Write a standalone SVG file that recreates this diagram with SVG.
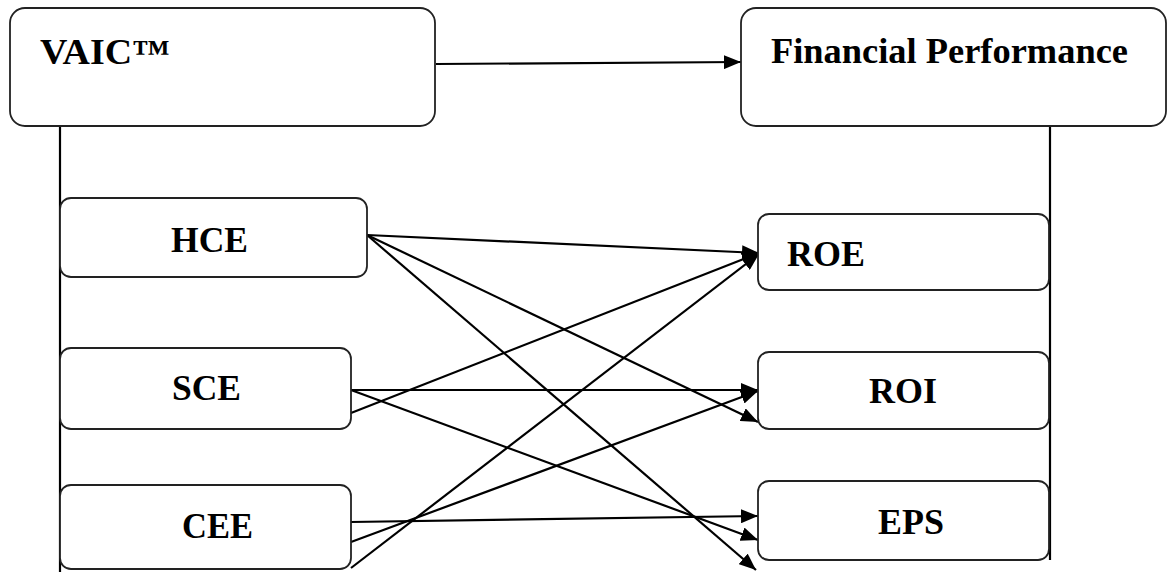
<svg xmlns="http://www.w3.org/2000/svg" width="1167" height="572" viewBox="0 0 1167 572">
<style>
.box{fill:#fff;stroke:#222;stroke-width:1.8}
.lbl{font-family:"Liberation Serif","Times New Roman",serif;font-weight:bold;font-size:35px;fill:#000}
.con{stroke:#000;stroke-width:2.2;fill:none}
.arr{stroke:#000;stroke-width:2.2;fill:none;marker-end:url(#ah)}
</style>
<defs>
<marker id="ah" markerUnits="userSpaceOnUse" markerWidth="18" markerHeight="14" refX="17" refY="7" orient="auto">
<path d="M0,0 L17,7 L0,14 z" fill="#000"/>
</marker>
</defs>
<rect width="1167" height="572" fill="#fff"/>
<g id="connectors">
<line class="con" x1="60" y1="126" x2="60" y2="572"/>
<line class="con" x1="1050" y1="126" x2="1050" y2="560"/>
<line class="arr" x1="436" y1="64" x2="741" y2="62"/>
<line class="arr" x1="367" y1="235" x2="759" y2="253"/>
<line class="arr" x1="367" y1="235" x2="758" y2="422"/>
<line class="arr" x1="367" y1="235" x2="756" y2="570"/>
<line class="arr" x1="351" y1="390" x2="758" y2="390"/>
<line class="arr" x1="351" y1="390" x2="758" y2="540"/>
<line class="arr" x1="351" y1="413" x2="759" y2="253"/>
<line class="arr" x1="351" y1="522" x2="758" y2="516"/>
<line class="arr" x1="351" y1="542" x2="758" y2="391"/>
<line class="arr" x1="351" y1="568" x2="759" y2="254"/>
</g>
<g id="vaic">
<rect class="box" x="10" y="8" width="425" height="118" rx="15"/>
<text class="lbl" x="40" y="64" textLength="130" lengthAdjust="spacingAndGlyphs">VAIC™</text>
</g>
<g id="fp">
<rect class="box" x="741" y="8" width="425" height="118" rx="15"/>
<text class="lbl" x="771" y="63" textLength="357" lengthAdjust="spacingAndGlyphs">Financial Performance</text>
</g>
<g id="hce">
<rect class="box" x="60" y="198" width="307" height="79" rx="11"/>
<text class="lbl" x="171" y="252" textLength="77" lengthAdjust="spacingAndGlyphs">HCE</text>
</g>
<g id="sce">
<rect class="box" x="60" y="348" width="291" height="81" rx="11"/>
<text class="lbl" x="172" y="400" textLength="69" lengthAdjust="spacingAndGlyphs">SCE</text>
</g>
<g id="cee">
<rect class="box" x="60" y="485" width="291" height="84" rx="11"/>
<text class="lbl" x="182" y="538" textLength="71" lengthAdjust="spacingAndGlyphs">CEE</text>
</g>
<g id="roe">
<rect class="box" x="758" y="214" width="291" height="76" rx="11"/>
<text class="lbl" x="787" y="266" textLength="78" lengthAdjust="spacingAndGlyphs">ROE</text>
</g>
<g id="roi">
<rect class="box" x="758" y="352" width="291" height="77" rx="11"/>
<text class="lbl" x="869" y="403" textLength="68" lengthAdjust="spacingAndGlyphs">ROI</text>
</g>
<g id="eps">
<rect class="box" x="758" y="481" width="291" height="79" rx="11"/>
<text class="lbl" x="878" y="534" textLength="66" lengthAdjust="spacingAndGlyphs">EPS</text>
</g>
</svg>
